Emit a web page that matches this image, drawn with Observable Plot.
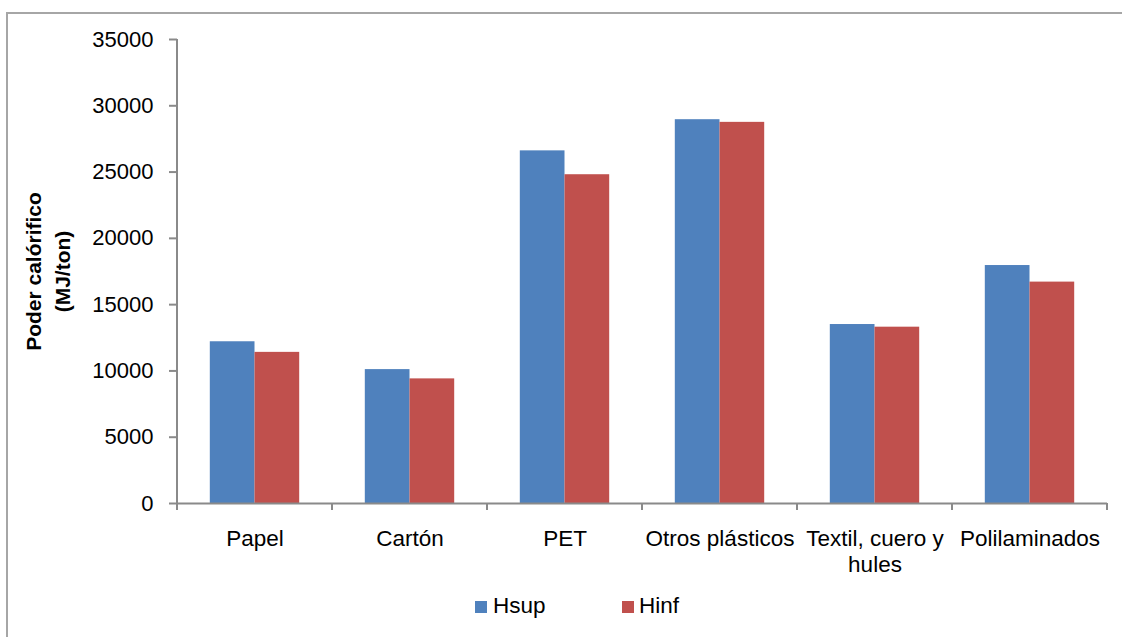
<!DOCTYPE html>
<html><head><meta charset="utf-8">
<script src="https://cdn.jsdelivr.net/npm/d3@7"></script>
<script src="https://cdn.jsdelivr.net/npm/@observablehq/plot@0.6"></script>
<style>
body{margin:0;width:1122px;height:637px;overflow:hidden;background:#fff;font-family:"Liberation Sans",Arial,sans-serif;position:relative}
#frame{position:absolute;left:6px;top:12px;width:1300px;height:800px;border:2px solid #a6a6a6;}
#chart{position:absolute;left:0;top:0}
#legend{position:absolute;top:595px;left:0;width:1122px;height:30px;font-size:22.5px;color:#000}
.sw{position:absolute;width:12px;height:12px;top:6px}
.lb{position:absolute;top:0;line-height:22px}
</style></head>
<body>
<div id="frame"></div>
<div id="chart"></div>
<div id="legend"></div>
<script>
const categories = ["Papel","Cartón","PET","Otros plásticos","Textil, cuero y hules","Polilaminados"];
const xTickLabels = ["Papel","Cartón","PET","Otros plásticos","Textil, cuero y\nhules","Polilaminados"];
const hsup = [12200, 10100, 26600, 28950, 13500, 17950];
const hinf = [11400, 9400, 24800, 28750, 13300, 16700];
const yTicks = [0,5000,10000,15000,20000,25000,30000,35000];
const seriesNames = ["Hsup","Hinf"];
const seriesColors = ["#4F81BD","#C0504D"];
const yTitle = "Poder calórifico\n(MJ/ton)";

const rowsHsup = categories.map((c,i)=>({cat:c, v:hsup[i]}));
const rowsHinf = categories.map((c,i)=>({cat:c, v:hinf[i]}));

const axisGray = "#8a8a8a";

function axisFrame(index, scales, values, dims) {
  const g = d3.create("svg:g").attr("stroke", axisGray).attr("stroke-width", 2).attr("fill","none");
  const x = scales.x, y = scales.y;
  const x0 = dims.marginLeft, x1 = dims.width - dims.marginRight;
  const yb = y(0), yt = y(yTicks[yTicks.length-1]);
  g.append("line").attr("x1", x0).attr("x2", x0).attr("y1", yt).attr("y2", yb);
  const bx = categories.map(c => x(c)).concat([x1]);
  for (const b of bx) {
    g.append("line").attr("x1", b).attr("x2", b).attr("y1", yb).attr("y2", yb + 7);
  }
  return g.node();
}

const chart = Plot.plot({
  width: 1122, height: 590,
  marginLeft: 177, marginRight: 15, marginTop: 39, marginBottom: 87,
  style: {fontFamily: "Liberation Sans, Arial, sans-serif", background: "transparent", color: "#000"},
  x: {domain: categories, padding: 0, label: null},
  y: {domain: [0, 35000], label: null},
  marks: [
    Plot.barY(rowsHsup, {x: "cat", y: "v", fill: seriesColors[0], insetLeft: 32.8, insetRight: 77.5}),
    Plot.barY(rowsHinf, {x: "cat", y: "v", fill: seriesColors[1], insetLeft: 77.5, insetRight: 32.8}),
    Plot.ruleY([0], {stroke: axisGray, strokeWidth: 2}),
    axisFrame,
    Plot.axisY({ticks: yTicks, tickSize: 8, tickPadding: 16, fontSize: 22, stroke: axisGray, strokeWidth: 2, fill: "#000", label: null, tickFormat: d => String(d)}),
    Plot.axisX({tickSize: 0, tickPadding: 25, fontSize: 22.5, fill: "#000", label: null, lineHeight: 1.12,
      tickFormat: d => xTickLabels[categories.indexOf(d)]}),
    Plot.text([yTitle], {frameAnchor: "left", text: d => d, rotate: -90, dx: -131, fontSize: 21, fontWeight: "bold", fill: "#000", lineHeight: 1.34, textAnchor: "middle", lineAnchor: "middle"})
  ]
});
document.getElementById("chart").appendChild(chart);

const legend = document.getElementById("legend");
const legPos = [[475, 493],[622, 639]];
seriesNames.forEach((n,i)=>{
  const s = document.createElement("div"); s.className = "sw"; s.style.left = legPos[i][0]+"px"; s.style.background = seriesColors[i];
  const t = document.createElement("div"); t.className = "lb"; t.style.left = legPos[i][1]+"px"; t.textContent = n;
  legend.appendChild(s); legend.appendChild(t);
});
</script>
</body></html>
